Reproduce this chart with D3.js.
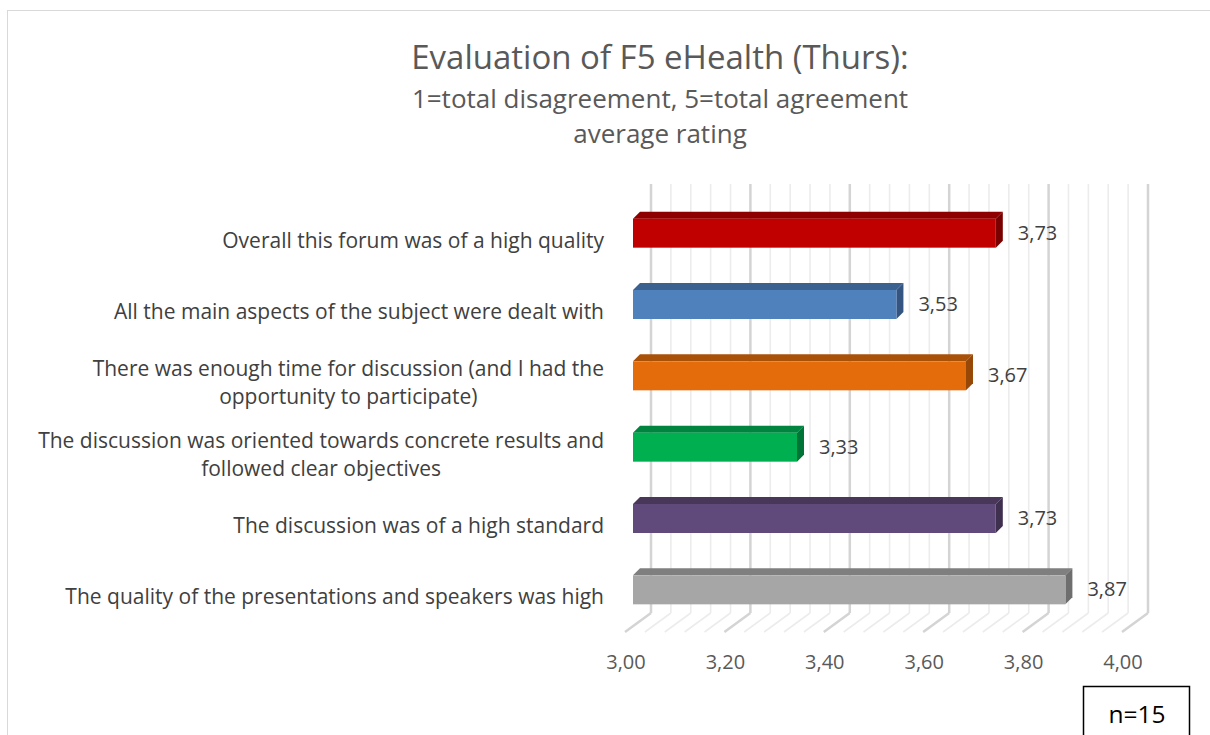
<!DOCTYPE html>
<html>
<head>
<meta charset="utf-8">
<script src="https://cdn.jsdelivr.net/npm/d3@7"></script>
<style>
  html, body { margin: 0; padding: 0; background: #fff; }
  svg { display: block; }
  text { font-family: "Open Sans", "Noto Sans", sans-serif; }
</style>
</head>
<body>
<svg id="chart" width="1210" height="735"></svg>
<script>
const titleLines = ["Evaluation of F5 eHealth (Thurs):", "1=total disagreement, 5=total agreement", "average rating"];
const categories = [
  ["Overall this forum was of a high quality"],
  ["All the main aspects of the subject were dealt with"],
  ["There was enough time for discussion (and I had the", "opportunity to participate)"],
  ["The discussion was oriented towards concrete results and", "followed clear objectives"],
  ["The discussion was of a high standard"],
  ["The quality of the presentations and speakers was high"]
];
const values = [3.73, 3.53, 3.67, 3.33, 3.73, 3.87];
const tickValues = [3.0, 3.2, 3.4, 3.6, 3.8, 4.0];
const gridValues = d3.range(0, 26).map(i => 3 + i * 0.04);
const noteText = "n=15";

const frontColors = ["#C00000", "#4F81BD", "#E46C0A", "#00B050", "#604A7B", "#A6A6A6"];
const topColors   = ["#8E0000", "#3B6190", "#AA5108", "#008440", "#483759", "#7F7F7F"];
const sideColors  = ["#7A0000", "#345581", "#974806", "#007437", "#3F3050", "#6E6E6E"];

const svg = d3.select("#chart");
const fmt = v => d3.format(".2f")(v).replace(".", ",");

// chart outer border
svg.append("rect").attr("x", 7.5).attr("y", 10.5).attr("width", 1250).attr("height", 800)
  .attr("fill", "none").attr("stroke", "#d9d9d9").attr("stroke-width", 1);

// scales
const x = d3.scaleLinear().domain([3, 4]).range([625, 1122]);
const ids = d3.range(categories.length);
const y = d3.scaleBand().domain(ids).range([204, 632]);
const backDX = 26, backDY = -19;
const floorY = 632, wallTop = 184;
const barOff = 8, barDepth = 7, barH = 29;

// back wall vertical gridlines + floor diagonals
gridValues.forEach((v, i) => {
  const major = i % 5 === 0;
  const col = major ? "#d4d4d4" : "#ececec";
  const w = major ? 2.5 : 1.6;
  const xb = x(v) + backDX;
  svg.append("line").attr("x1", xb).attr("x2", xb).attr("y1", wallTop).attr("y2", floorY + backDY)
    .attr("stroke", col).attr("stroke-width", w);
  svg.append("line").attr("x1", xb).attr("y1", floorY + backDY).attr("x2", x(v)).attr("y2", floorY)
    .attr("stroke", col).attr("stroke-width", w);
});

// bars
ids.forEach(i => {
  const c = y(i) + y.bandwidth() / 2;
  const top = c - 21, bot = top + barH;
  const x0 = x(3) + barOff, x1 = x(values[i]) + barOff;
  const g = svg.append("g");
  g.append("polygon")
    .attr("points", [[x0, top], [x0 + barDepth, top - barDepth], [x1 + barDepth, top - barDepth], [x1, top]].map(p => p.join(",")).join(" "))
    .attr("fill", topColors[i]);
  g.append("polygon")
    .attr("points", [[x1, top], [x1 + barDepth, top - barDepth], [x1 + barDepth, bot - barDepth], [x1, bot]].map(p => p.join(",")).join(" "))
    .attr("fill", sideColors[i]);
  g.append("rect").attr("x", x0).attr("y", top).attr("width", x1 - x0).attr("height", barH)
    .attr("fill", frontColors[i]);
  // value label
  svg.append("text").attr("x", x1 + barDepth + 15).attr("y", top + barH / 2 + 1)
    .attr("dominant-baseline", "middle").attr("font-size", 20).attr("fill", "#404040")
    .text(fmt(values[i]));
});

// category labels
ids.forEach(i => {
  const lines = categories[i];
  const c = y(i) + y.bandwidth() / 2 + 2.5;
  const g = svg.append("g");
  const lh = 28;
  const ts = lines.map((ln, k) => g.append("text")
    .attr("y", c + (k - (lines.length - 1) / 2) * lh)
    .attr("dominant-baseline", "middle")
    .attr("font-size", 21).attr("fill", "#404040").text(ln));
  const maxW = d3.max(ts, t => t.node().getComputedTextLength());
  ts.forEach(t => t.attr("x", 604 - maxW / 2).attr("text-anchor", "middle"));
});

// x tick labels
tickValues.forEach(v => {
  svg.append("text").attr("x", x(v) + 1).attr("y", 664).attr("text-anchor", "middle")
    .attr("dominant-baseline", "middle").attr("font-size", 20).attr("fill", "#595959").text(fmt(v));
});

// title
svg.append("text").attr("x", 660).attr("y", 60).attr("text-anchor", "middle").attr("dominant-baseline", "middle")
  .attr("font-size", 33).attr("fill", "#595959").text(titleLines[0]);
svg.append("text").attr("x", 660).attr("y", 101).attr("text-anchor", "middle").attr("dominant-baseline", "middle")
  .attr("font-size", 26).attr("fill", "#595959").text(titleLines[1]);
svg.append("text").attr("x", 660).attr("y", 136).attr("text-anchor", "middle").attr("dominant-baseline", "middle")
  .attr("font-size", 26).attr("fill", "#595959").text(titleLines[2]);

// n box
svg.append("rect").attr("x", 1083.5).attr("y", 686.5).attr("width", 106).attr("height", 60)
  .attr("fill", "#fff").attr("stroke", "#000").attr("stroke-width", 1.5);
svg.append("text").attr("x", 1137).attr("y", 716).attr("text-anchor", "middle").attr("dominant-baseline", "middle")
  .attr("font-size", 24.5).attr("fill", "#000").text(noteText);
</script>
</body>
</html>
